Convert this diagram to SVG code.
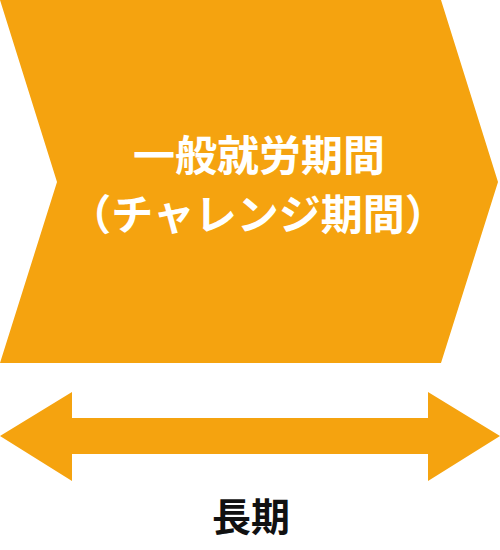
<svg xmlns="http://www.w3.org/2000/svg" width="500" height="550" viewBox="0 0 500 550">
<style>
.shape{fill:#F5A30F;}
.t{font-family:"Noto Sans CJK JP","Noto Sans",sans-serif;font-weight:bold;text-anchor:middle;}
</style>
<g id="period">
<polygon class="shape" points="0,0 441,0 498,182 441,363 0,363 57,182"/>
<text class="t" x="259" y="171" font-size="42" fill="#FFFFFF">一般就労期間</text>
<text class="t" x="258" y="230" font-size="42" fill="#FFFFFF">（チャレンジ期間）</text>
</g>
<g id="connectors">
<polygon class="shape" points="0,436 72,392 72,418 428,418 428,392 500,436 428,481 428,454 72,454 72,481"/>
</g>
<g id="label">
<text class="t" x="251" y="531" font-size="39" fill="#111111">長期</text>
</g>
</svg>
